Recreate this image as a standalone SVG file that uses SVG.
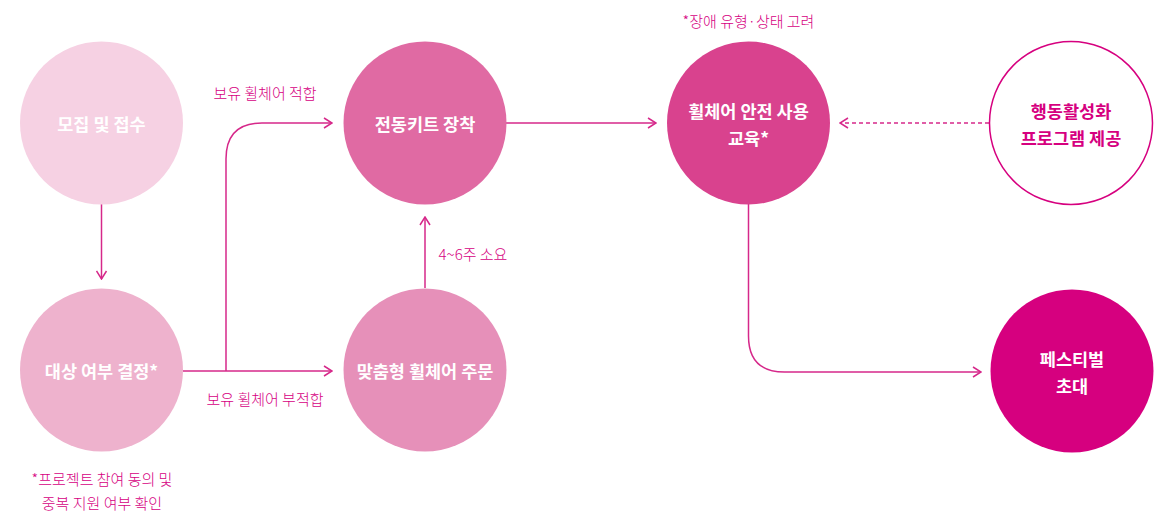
<svg xmlns="http://www.w3.org/2000/svg" width="1161" height="513" viewBox="0 0 1161 513">
<style>
.node-text{font-family:"Noto Sans CJK KR","Noto Sans",sans-serif;font-size:17.5px;font-weight:700;fill:#ffffff;text-anchor:middle;dominant-baseline:central}
.node-text.dark{fill:#d6007f}
.label{font-family:"Noto Sans CJK KR","Noto Sans",sans-serif;font-size:15px;font-weight:300;fill:#d6007f;text-anchor:middle;dominant-baseline:central}
.conn{fill:none;stroke:#d6288a;stroke-width:1.5}
.dash{stroke-dasharray:4 3}
</style>
<defs>
<marker id="arrow" viewBox="0 0 10 12" refX="9" refY="6" markerWidth="10" markerHeight="12" markerUnits="userSpaceOnUse" orient="auto">
<path d="M1 1 L9 6 L1 11" fill="none" stroke="#d6288a" stroke-width="1.5"/>
</marker>
</defs>
<rect width="1161" height="513" fill="#ffffff"/>
<g id="connectors">
<path class="conn" d="M101.5 204 V279" marker-end="url(#arrow)"/>
<path class="conn" d="M183 371 H332" marker-end="url(#arrow)"/>
<path class="conn" d="M226 371 V159 Q226 123 262 123 H332" marker-end="url(#arrow)"/>
<path class="conn" d="M425 288 V217" marker-end="url(#arrow)"/>
<path class="conn" d="M506 123 H656" marker-end="url(#arrow)"/>
<path class="conn dash" d="M989 123 H840" marker-end="url(#arrow)"/>
<path class="conn" d="M748.5 204 V336 Q748.5 372 784.5 372 H981" marker-end="url(#arrow)"/>
</g>
<g id="labels">
<text class="label" x="265" y="92">보유 휠체어 적합</text>
<text class="label" x="265" y="398">보유 휠체어 부적합</text>
<text class="label" x="473" y="253">4~6주 소요</text>
<text class="label" x="748.5" y="20">*장애 유형·상태 고려</text>
<text class="label" x="102" y="478">*프로젝트 참여 동의 및</text>
<text class="label" x="102" y="502">중복 지원 여부 확인</text>
</g>
<g id="node-recruit">
<circle cx="101.5" cy="123" r="81.5" fill="#f6d1e3"/>
<text class="node-text" x="101.5" y="123">모집 및 접수</text>
</g>
<g id="node-decide">
<circle cx="101.5" cy="370" r="81.5" fill="#eeb2cd"/>
<text class="node-text" x="101.5" y="370">대상 여부 결정*</text>
</g>
<g id="node-kit">
<circle cx="425" cy="123" r="81.5" fill="#e06aa3"/>
<text class="node-text" x="425" y="123">전동키트 장착</text>
</g>
<g id="node-order">
<circle cx="425" cy="370" r="81.5" fill="#e690b9"/>
<text class="node-text" x="425" y="370">맞춤형 휠체어 주문</text>
</g>
<g id="node-education">
<circle cx="748.5" cy="123" r="81.5" fill="#d9428e"/>
<text class="node-text" x="748.5" y="110">휠체어 안전 사용</text>
<text class="node-text" x="748.5" y="137">교육*</text>
</g>
<g id="node-program">
<circle cx="1071" cy="123" r="81.5" fill="#ffffff" stroke="#d6007f" stroke-width="1.5"/>
<text class="node-text dark" x="1071" y="110">행동활성화</text>
<text class="node-text dark" x="1071" y="137">프로그램 제공</text>
</g>
<g id="node-festival">
<circle cx="1072" cy="371" r="81.5" fill="#d6007f"/>
<text class="node-text" x="1072" y="358">페스티벌</text>
<text class="node-text" x="1072" y="385">초대</text>
</g>
</svg>
